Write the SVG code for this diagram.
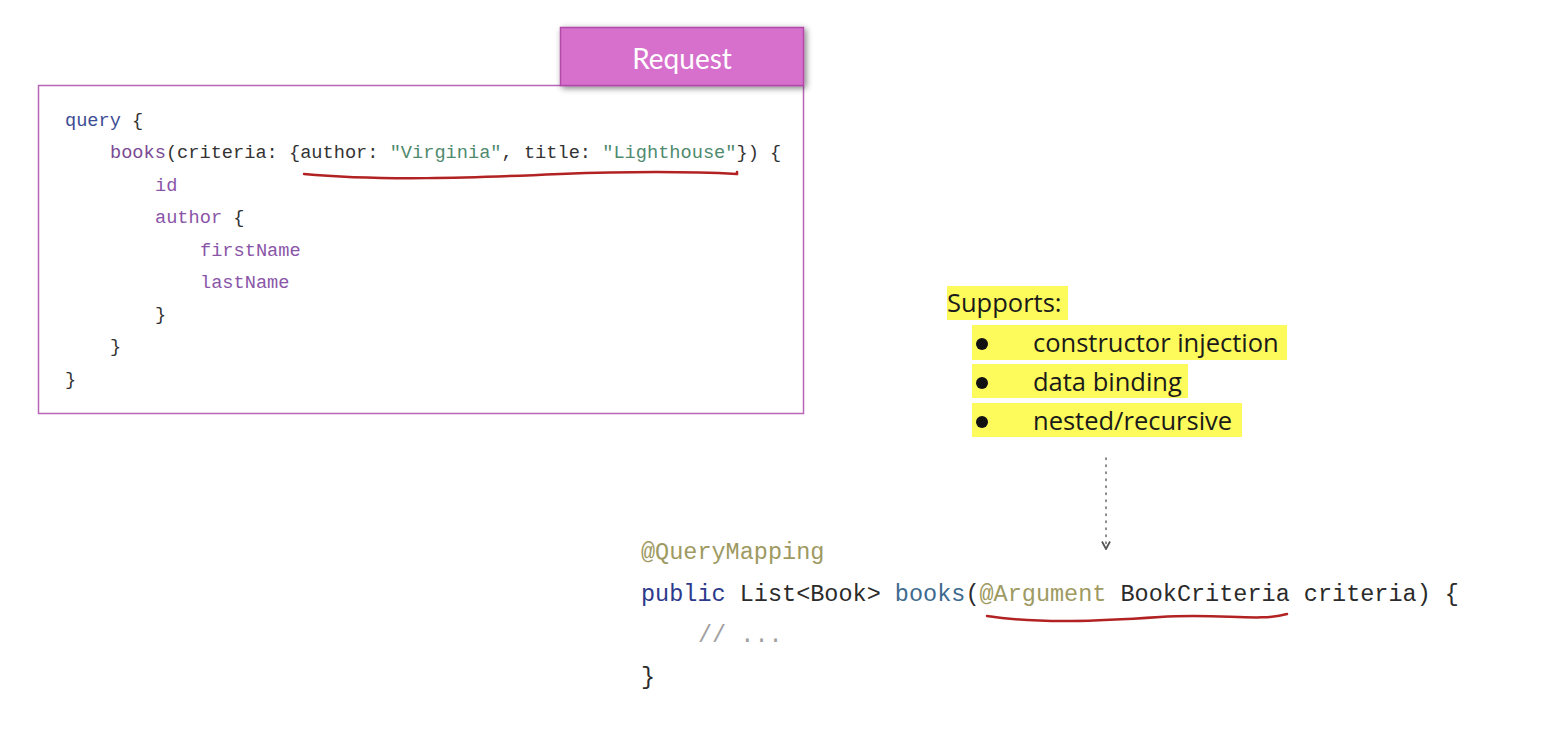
<svg xmlns="http://www.w3.org/2000/svg" width="1566" height="748" viewBox="0 0 1566 748">
<style>
.code{font-family:"Liberation Mono","DejaVu Sans Mono",monospace;font-size:18.65px;fill:#333;white-space:pre}
.big{font-family:"Liberation Mono","DejaVu Sans Mono",monospace;font-size:23.5px;fill:#2b2b2b;white-space:pre}
.kw{fill:#3d4d94}
.fn{fill:#7b4a94}
.fld{fill:#8a55a8}
.str{fill:#4f8a6e}
.ann{fill:#9e9a62}
.pub{fill:#2d3a8c}
.mth{fill:#3d6a8e}
.cmt{fill:#a0a0a0}
.sans{font-family:"Open Sans","Noto Sans","Liberation Sans",sans-serif;font-size:25.5px;fill:#1a1a1a}
.hl{fill:#fdfb5c}
.squig{fill:none;stroke:#b22222;stroke-width:2.5;stroke-linecap:round}
</style>
<defs>
<filter id="sh" x="-10%" y="-20%" width="130%" height="160%">
<feGaussianBlur in="SourceAlpha" stdDeviation="3"/>
<feOffset dx="2" dy="2"/>
<feComponentTransfer><feFuncA type="linear" slope="0.5"/></feComponentTransfer>
<feMerge><feMergeNode/><feMergeNode in="SourceGraphic"/></feMerge>
</filter>
<marker id="arr" viewBox="0 0 10 10" refX="9" refY="5" markerWidth="10" markerHeight="10" markerUnits="userSpaceOnUse" orient="auto">
<path d="M1.5,1 L9,5 L1.5,9" fill="none" stroke="#555" stroke-width="1.8"/>
</marker>
</defs>
<rect width="1566" height="748" fill="#ffffff"/>

<g id="request-box">
<rect x="38.5" y="85.5" width="765" height="328" fill="#ffffff" stroke="#b965b6" stroke-width="1.5"/>
<g id="request-tab" filter="url(#sh)">
<rect x="560.5" y="27.5" width="243" height="58" fill="#d670cc" stroke="#b04aa8" stroke-width="1.5"/>
</g>
<text x="682" y="69" text-anchor="middle" font-family="Lato,'Noto Sans','Liberation Sans',sans-serif" font-size="28" fill="#ffffff">Request</text>
<text class="code" x="65" y="126"><tspan class="kw">query</tspan> {</text>
<text class="code" x="110" y="158"><tspan class="fn">books</tspan>(criteria: {author: <tspan class="str">"Virginia"</tspan>, title: <tspan class="str">"Lighthouse"</tspan>}) {</text>
<text class="code" x="155" y="191"><tspan class="fld">id</tspan></text>
<text class="code" x="155" y="223"><tspan class="fld">author</tspan> {</text>
<text class="code" x="200" y="256"><tspan class="fld">firstName</tspan></text>
<text class="code" x="200" y="288"><tspan class="fld">lastName</tspan></text>
<text class="code" x="155" y="320">}</text>
<text class="code" x="110" y="352">}</text>
<text class="code" x="65" y="385">}</text>
<path class="squig" d="M304,174 C380,181 470,178 560,174 C640,171 700,172 737,174 L737,172"/>
</g>

<g id="supports">
<rect class="hl" x="947" y="286" width="121" height="34"/>
<rect class="hl" x="972" y="325" width="315" height="35"/>
<rect class="hl" x="972" y="364" width="216" height="34"/>
<rect class="hl" x="972" y="403" width="270" height="34"/>
<text class="sans" x="947" y="312">Supports:</text>
<circle cx="982" cy="344" r="6" fill="#111"/>
<circle cx="982" cy="383" r="6" fill="#111"/>
<circle cx="982" cy="422" r="6" fill="#111"/>
<text class="sans" x="1033" y="352">constructor injection</text>
<text class="sans" x="1033" y="391">data binding</text>
<text class="sans" x="1033" y="430">nested/recursive</text>
</g>

<g id="connectors">
<line x1="1106" y1="458" x2="1106" y2="549" stroke="#666" stroke-width="1.5" stroke-dasharray="1.5 5.5" stroke-linecap="round" marker-end="url(#arr)"/>
</g>

<g id="controller-code">
<text class="big" x="641" y="559"><tspan class="ann">@QueryMapping</tspan></text>
<text class="big" x="641" y="601"><tspan class="pub">public</tspan> List&lt;Book&gt; <tspan class="mth">books</tspan>(<tspan class="ann">@Argument</tspan> BookCriteria criteria) {</text>
<text class="big" x="698" y="642"><tspan class="cmt">// ...</tspan></text>
<text class="big" x="641" y="684">}</text>
<path class="squig" d="M987,616 C1040,624 1100,621 1160,617 C1220,613 1260,622 1287,614"/>
</g>
</svg>
